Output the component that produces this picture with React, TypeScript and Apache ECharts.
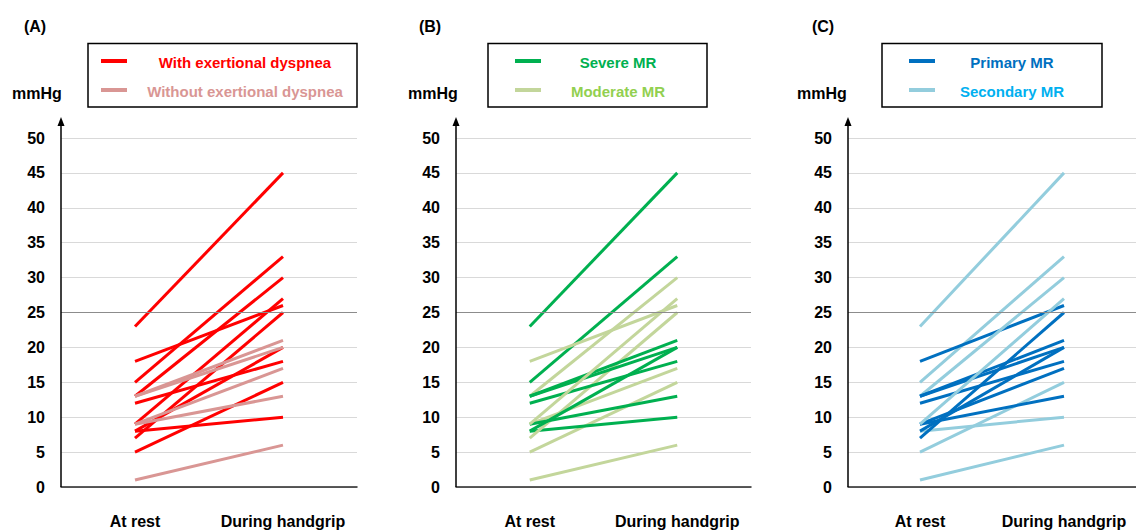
import React, { useEffect, useRef } from "react";
import * as echarts from "echarts";

// ---- Data ----
const categories = ["At rest", "During handgrip"];
const atRest = [23, 15, 18, 1, 5, 8, 13, 9, 7, 9, 13, 12, 8, 13, 9];
const duringHandgrip = [45, 33, 26, 6, 15, 10, 30, 17, 25, 13, 21, 18, 20, 20, 27];
const exertionalDyspnea = [true, true, true, false, true, true, true, false, true, false, false, true, true, false, true];
const mrSeverity = ["Severe", "Severe", "Moderate", "Moderate", "Moderate", "Severe", "Moderate", "Moderate", "Moderate", "Severe", "Severe", "Severe", "Severe", "Severe", "Moderate"];
const mrType = ["Secondary", "Secondary", "Primary", "Secondary", "Secondary", "Secondary", "Secondary", "Primary", "Primary", "Primary", "Primary", "Primary", "Primary", "Primary", "Secondary"];
const yMin = 0;
const yMax = 50;
const yInterval = 5;
const referenceLine = 25;
const panelLetters = ["(A)", "(B)", "(C)"];
const unitLabel = "mmHg";
const legendLabels = [
  ["With exertional dyspnea", "Without exertional dyspnea"],
  ["Severe MR", "Moderate MR"],
  ["Primary MR", "Secondary MR"],
];

// ---- Styles ----
const FONT = '"Liberation Sans", Arial, sans-serif';
const lineColors = [
  ["#FF0000", "#D99694"],
  ["#00B050", "#C3D69B"],
  ["#0070C0", "#93CDDD"],
];
const legendTextColors = [
  ["#FF0000", "#D99694"],
  ["#00B050", "#92D050"],
  ["#0070C0", "#00B0F0"],
];
const GRID_TOP = 138;
const GRID_BOTTOM_Y = 487;
const panels = [
  { left: 61, width: 296, letterX: 35, unitX: 37, box: [88, 357], sample: [101, 127], textX: 245 },
  { left: 456, width: 295, letterX: 430, unitX: 433, box: [488, 707], sample: [515, 541], textX: 618 },
  { left: 848, width: 296, letterX: 823, unitX: 822, box: [882, 1102], sample: [909, 935], textX: 1012 },
];

function groupIndex(panel: number, i: number): number {
  if (panel === 0) return exertionalDyspnea[i] ? 0 : 1;
  if (panel === 1) return mrSeverity[i] === "Severe" ? 0 : 1;
  return mrType[i] === "Primary" ? 0 : 1;
}

export default function App() {
  const ref = useRef<HTMLDivElement>(null);
  useEffect(() => {
    if (!ref.current) return;
    const chart = echarts.init(ref.current, undefined, { renderer: "svg" });

    const grids = panels.map((p) => ({
      left: p.left,
      width: p.width,
      top: GRID_TOP,
      bottom: 530 - GRID_BOTTOM_Y,
      containLabel: false,
    }));

    const xAxes = panels.map((_, k) => ({
      type: "category",
      gridIndex: k,
      data: categories,
      boundaryGap: true,
      axisTick: { show: false },
      axisLine: { show: true, lineStyle: { color: "#262626", width: 1.5 } },
      axisLabel: { interval: 0, hideOverlap: false, color: "#000", fontWeight: "bold", fontSize: 16, fontFamily: FONT, margin: 26 },
      splitLine: { show: false },
    }));

    const yAxes = panels.map((_, k) => ({
      type: "value",
      gridIndex: k,
      min: yMin,
      max: yMax,
      interval: yInterval,
      axisLine: { show: false },
      axisTick: { show: false },
      axisLabel: { color: "#000", fontWeight: "bold", fontSize: 16, fontFamily: FONT, margin: 16 },
      splitLine: { show: true, lineStyle: { color: "#D9D9D9", width: 1 } },
    }));

    const series: any[] = [];
    panels.forEach((_, k) => {
      // reference line at 25
      series.push({
        type: "line",
        xAxisIndex: k,
        yAxisIndex: k,
        data: [],
        silent: true,
        z: 1,
        markLine: {
          silent: true,
          symbol: "none",
          label: { show: false },
          lineStyle: { color: "#8C8C8C", width: 1.2, type: "solid" },
          data: [{ yAxis: referenceLine }],
        },
      });
      const order = atRest.map((_, i) => i);
      if (k === 0) order.sort((a, b) => groupIndex(0, a) - groupIndex(0, b));
      order.forEach((i) => {
        const g = groupIndex(k, i);
        series.push({
          type: "line",
          name: legendLabels[k][g],
          xAxisIndex: k,
          yAxisIndex: k,
          data: [atRest[i], duringHandgrip[i]],
          symbol: "none",
          silent: true,
          z: 3,
          lineStyle: { width: 3, color: lineColors[k][g] },
          itemStyle: { color: lineColors[k][g] },
        });
      });
    });

    const graphics: any[] = [];
    panels.forEach((p, k) => {
      graphics.push({
        type: "text",
        x: p.letterX,
        y: 26,
        style: { text: panelLetters[k], fill: "#000", font: `bold 16px ${FONT}`, textAlign: "center", textVerticalAlign: "middle" },
      });
      graphics.push({
        type: "text",
        x: p.unitX,
        y: 93,
        style: { text: unitLabel, fill: "#000", font: `bold 16px ${FONT}`, textAlign: "center", textVerticalAlign: "middle" },
      });
      // legend box
      graphics.push({
        type: "rect",
        shape: { x: p.box[0], y: 43.5, width: p.box[1] - p.box[0], height: 63.5 },
        style: { fill: "#fff", stroke: "#000", lineWidth: 1.5 },
      });
      [61, 90].forEach((yy, r) => {
        graphics.push({
          type: "line",
          shape: { x1: p.sample[0], y1: yy, x2: p.sample[1], y2: yy },
          style: { stroke: lineColors[k][r], lineWidth: 4 },
        });
        graphics.push({
          type: "text",
          x: p.textX,
          y: yy + 1,
          style: {
            text: legendLabels[k][r],
            fill: legendTextColors[k][r],
            font: `bold 15px ${FONT}`,
            textAlign: "center",
            textVerticalAlign: "middle",
          },
        });
      });
      // y axis with arrow
      graphics.push({
        type: "line",
        shape: { x1: p.left, y1: GRID_BOTTOM_Y, x2: p.left, y2: 124 },
        style: { stroke: "#000", lineWidth: 1.5 },
        z: 10,
      });
      graphics.push({
        type: "polygon",
        shape: { points: [[p.left, 117], [p.left - 3.5, 126], [p.left + 3.5, 126]] },
        style: { fill: "#000" },
        z: 10,
      });
    });

    chart.setOption({
      animation: false,
      backgroundColor: "#fff",
      textStyle: { fontFamily: FONT },
      grid: grids,
      xAxis: xAxes,
      yAxis: yAxes,
      series,
      graphic: graphics,
    });
    return () => chart.dispose();
  }, []);

  return <div ref={ref} style={{ position: "absolute", left: 0, top: 0, width: 1136, height: 530 }} />;
}
